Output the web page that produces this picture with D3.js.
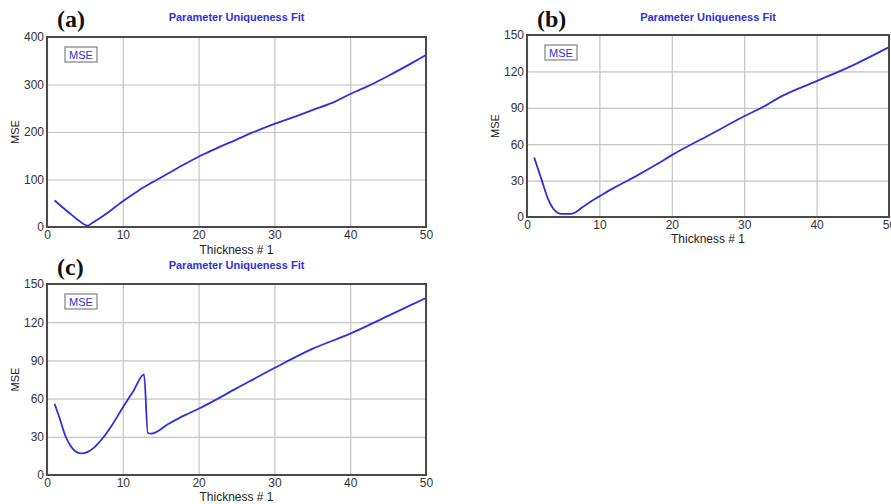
<!DOCTYPE html>
<html>
<head>
<meta charset="utf-8">
<script src="https://cdn.jsdelivr.net/npm/d3@7"></script>
<style>
  body { margin: 0; background: #fff; }
  svg { display: block; font-family: "Liberation Sans", Arial, sans-serif; }
</style>
</head>
<body>
<svg id="chart" width="891" height="504"></svg>
<script>
// values, [thickness, mse]
var seriesA = [[1,56],[2,42],[3,29],[4,16],[5.35,3],[6,9],[7,19],[8,30],[9,42],[10,54],[12,76],[14,95],[16,113],[18,131],[20,148],[22,163],[25,184],[27,198],[30,217],[33,234],[35,246],[38,264],[40,280],[42,294],[45,318],[48,344],[50,362]];
var seriesB = [[1,49],[2,31],[2.9,15],[3.5,8],[3.9,5],[4.4,3],[5,2.5],[6,2.5],[6.6,3.5],[7.2,6],[8,9.5],[8.6,12],[10,17],[12,24],[13.6,29],[15,33.5],[17.8,43],[20,51],[25,67],[30,83],[33,92],[35,99],[40,112],[45,125],[50,140]];
var seriesC = [[1,56],[1.7,44],[2.4,31],[3,24],[3.5,20],[3.9,18],[4.6,17],[5.3,18],[6,20.5],[6.7,24.5],[7.5,30],[8.5,38.5],[10,53],[11.4,66],[12.8,79],[13.3,33],[13.8,32.5],[16,40],[18.2,47],[20,52],[25,68],[30,84],[35,99],[40,111],[45,125],[50,139]];

var xTicks = [0, 10, 20, 30, 40, 50];
var yTicksA = [0, 100, 200, 300, 400];
var yTicksBC = [0, 30, 60, 90, 120, 150];

var panels = [
  {tag: "(a)", data: seriesA, yMax: 400, yTicks: yTicksA, left: 47, right: 426, top: 37, bottom: 227, titleY: 21, xLabY: 254, yLabX: 19},
  {tag: "(b)", data: seriesB, yMax: 150, yTicks: yTicksBC, left: 527, right: 889, top: 35, bottom: 217, titleY: 21, xLabY: 243, yLabX: 499},
  {tag: "(c)", data: seriesC, yMax: 150, yTicks: yTicksBC, left: 47, right: 426, top: 284, bottom: 475, titleY: 269, xLabY: 501, yLabX: 19}
];

var svg = d3.select("#chart");
var blue = "#2f2fe0";

panels.forEach(function(p) {
  var x = d3.scaleLinear().domain([0, 50]).range([p.left, p.right]);
  var y = d3.scaleLinear().domain([0, p.yMax]).range([p.bottom, p.top]);
  var g = svg.append("g");
  var mid = (p.left + p.right) / 2;

  // grid
  g.append("g")
    .attr("transform", "translate(0," + p.bottom + ")")
    .call(d3.axisBottom(x).tickValues(xTicks).tickSize(-(p.bottom - p.top)).tickFormat(""))
    .call(function(s) {
      s.select(".domain").remove();
      s.selectAll("line").attr("stroke", "#c4c4c4").attr("stroke-width", 1.2);
    });
  g.append("g")
    .attr("transform", "translate(" + p.left + ",0)")
    .call(d3.axisLeft(y).tickValues(p.yTicks).tickSize(-(p.right - p.left)).tickFormat(""))
    .call(function(s) {
      s.select(".domain").remove();
      s.selectAll("line").attr("stroke", "#c4c4c4").attr("stroke-width", 1.2);
    });

  // tick labels
  g.append("g")
    .attr("transform", "translate(0," + p.bottom + ")")
    .call(d3.axisBottom(x).tickValues(xTicks).tickSize(0).tickPadding(3))
    .call(function(s) {
      s.select(".domain").remove();
      s.selectAll("text").attr("font-size", 12).attr("fill", "#333").attr("font-family", "Liberation Sans, Arial, sans-serif");
    });
  g.append("g")
    .attr("transform", "translate(" + p.left + ",0)")
    .call(d3.axisLeft(y).tickValues(p.yTicks).tickSize(0).tickPadding(3))
    .call(function(s) {
      s.select(".domain").remove();
      s.selectAll("text").attr("font-size", 12).attr("fill", "#333").attr("font-family", "Liberation Sans, Arial, sans-serif");
    });

  // line
  var line = d3.line().x(function(d) { return x(d[0]); }).y(function(d) { return y(d[1]); }).curve(d3.curveMonotoneX);
  g.append("path")
    .datum(p.data)
    .attr("fill", "none")
    .attr("stroke", blue)
    .attr("stroke-width", 1.8)
    .attr("d", line);

  // frame
  g.append("rect")
    .attr("x", p.left).attr("y", p.top)
    .attr("width", p.right - p.left).attr("height", p.bottom - p.top)
    .attr("fill", "none").attr("stroke", "#4a4a4a").attr("stroke-width", 2);

  // legend
  g.append("rect")
    .attr("x", p.left + 18).attr("y", p.top + 10)
    .attr("width", 32).attr("height", 15)
    .attr("fill", "#fff").attr("stroke", "#8a8a8a").attr("stroke-width", 1.3);
  g.append("text")
    .attr("x", p.left + 34).attr("y", p.top + 22)
    .attr("text-anchor", "middle").attr("font-size", 11).attr("fill", blue)
    .text("MSE");

  // titles
  g.append("text")
    .attr("x", mid).attr("y", p.titleY)
    .attr("text-anchor", "middle").attr("font-size", 11).attr("font-weight", "bold").attr("fill", blue)
    .text("Parameter Uniqueness Fit");
  g.append("text")
    .attr("x", p.left + 10).attr("y", p.titleY + 6)
    .attr("font-family", "Liberation Serif, Times New Roman, serif")
    .attr("font-size", 24).attr("font-weight", "bold").attr("fill", "#111")
    .text(p.tag);
  g.append("text")
    .attr("x", mid).attr("y", p.xLabY)
    .attr("text-anchor", "middle").attr("font-size", 12).attr("fill", "#222")
    .text("Thickness # 1");
  g.append("text")
    .attr("transform", "translate(" + p.yLabX + "," + ((p.top + p.bottom) / 2) + ") rotate(-90)")
    .attr("text-anchor", "middle").attr("font-size", 11).attr("fill", "#222")
    .text("MSE");
});
</script>
</body>
</html>
